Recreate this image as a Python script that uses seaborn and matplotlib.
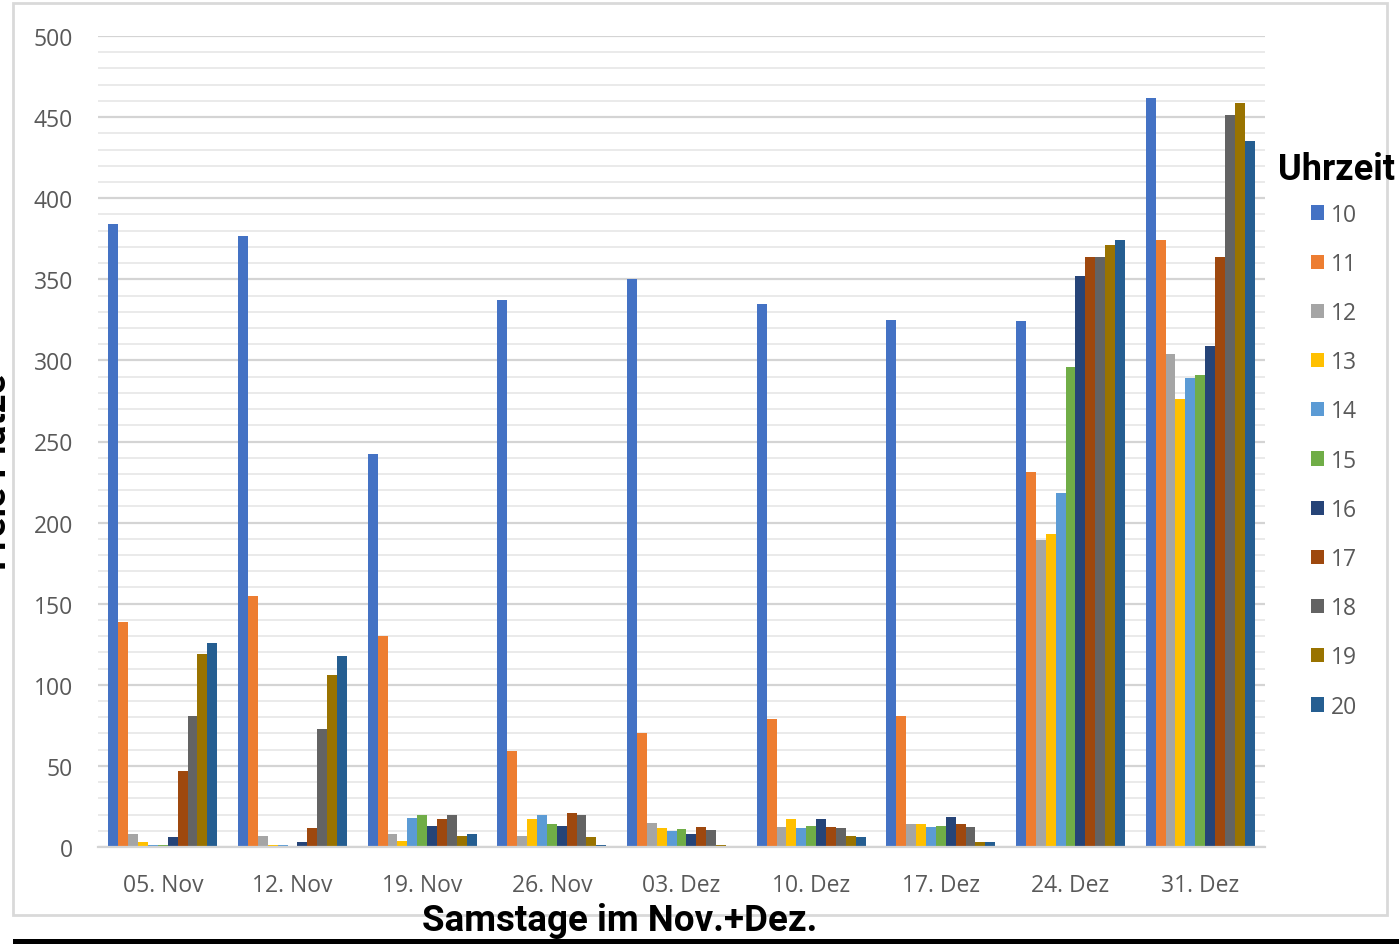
import matplotlib
matplotlib.use("Agg")
import matplotlib.pyplot as plt
from matplotlib.patches import Rectangle
from matplotlib.ticker import MultipleLocator
import seaborn as sns
import pandas as pd

# ---- data ----
dates = ["05. Nov", "12. Nov", "19. Nov", "26. Nov", "03. Dez",
         "10. Dez", "17. Dez", "24. Dez", "31. Dez"]
hours = ["10", "11", "12", "13", "14", "15", "16", "17", "18", "19", "20"]
h10 = [384, 377, 242, 337, 350, 335, 325, 324, 462]
h11 = [139, 155, 130, 59, 70, 79, 81, 231, 374]
h12 = [8, 7, 8, 7, 15, 12.5, 14, 189, 304]
h13 = [3, 1, 4, 17, 11.5, 17, 14, 193, 276]
h14 = [1, 1, 18, 19.5, 10, 11.5, 12.5, 218, 289]
h15 = [1, 0, 20, 14, 11, 13, 13, 296, 291]
h16 = [6, 3, 13, 13, 8, 17, 18.5, 352, 309]
h17 = [47, 12, 17, 21, 12.5, 12.5, 14, 364, 364]
h18 = [81, 73, 19.5, 19.5, 10.5, 11.5, 12.5, 364, 451]
h19 = [119, 106, 7, 6, 1, 7, 3, 371, 459]
h20 = [126, 118, 8, 1, 0, 6, 3, 374, 435]
series = [h10, h11, h12, h13, h14, h15, h16, h17, h18, h19, h20]
colors = ["#4472C4", "#ED7D31", "#A5A5A5", "#FFC000", "#5B9BD5", "#70AD47",
          "#264478", "#9E480E", "#636363", "#997300", "#255E91"]

rows = []
for h, vals in zip(hours, series):
    for d, v in zip(dates, vals):
        rows.append({"Datum": d, "Uhrzeit": h, "Plaetze": v})
df = pd.DataFrame(rows)

W, H = 1399, 945
fig = plt.figure(figsize=(W / 100, H / 100), dpi=100)
ax = fig.add_axes([98 / W, 1 - 848 / H, (1265 - 98) / W, (848 - 37) / H])

sns.barplot(data=df, x="Datum", y="Plaetze", hue="Uhrzeit", order=dates,
            hue_order=hours, palette=colors, width=0.84, gap=0,
            linewidth=0, saturation=1, ax=ax, legend=True)

TICKFONT = ["Open Sans", "DejaVu Sans"]
TS = 16.5
ax.set_ylim(0, 500)
ax.set_xlim(-0.5, len(dates) - 0.5)
ax.yaxis.set_major_locator(MultipleLocator(50))
ax.yaxis.set_minor_locator(MultipleLocator(10))
ax.grid(axis="y", which="major", color="#D4D4D4", lw=1.6, zorder=0)
ax.grid(axis="y", which="minor", color="#E8E8E8", lw=1.3, zorder=0)
ax.set_axisbelow(True)
for s in ["top", "right", "left"]:
    ax.spines[s].set_visible(False)
ax.spines["bottom"].set_color("#D4D4D4")
ax.spines["bottom"].set_linewidth(1.6)
ax.tick_params(axis="both", which="both", length=0, labelsize=TS,
               labelcolor="#595959")
ax.tick_params(axis="y", pad=18)
ax.tick_params(axis="x", pad=18.5)
for lab in ax.get_xticklabels() + ax.get_yticklabels():
    lab.set_fontfamily(TICKFONT)
ax.set_xlabel("")
ax.set_ylabel("")

# legend (entries) + separate title
handles, labels = ax.get_legend_handles_labels()
ax.get_legend().remove()
fsz_px = TS * 100 / 72
leg = fig.legend(handles, labels, loc="upper left",
                 bbox_to_anchor=(1311 / W, 1 - (213 - fsz_px / 2 + 2) / H),
                 frameon=False, borderpad=0, borderaxespad=0,
                 handlelength=0.58, handleheight=0.58, handletextpad=0.3,
                 labelspacing=1.1, prop={"family": TICKFONT, "size": TS})
for t in leg.get_texts():
    t.set_color("#595959")

BOLD = ["Roboto", "Liberation Sans", "DejaVu Sans"]
fig.text(1278 / W, 1 - 170 / H, "Uhrzeit", ha="left", va="center",
         fontsize=26, fontweight="bold", family=BOLD)

# axis titles
fig.text(620 / W, 1 - 921 / H, "Samstage im Nov.+Dez.", ha="center",
         va="center", fontsize=26.5, fontweight="bold", family=BOLD)
fig.text(14 / W, 1 - 472 / H, "Freie Plätze", rotation=90, ha="right",
         va="center", fontsize=26.5, fontweight="bold", family=BOLD)

# frame and bottom rule
fig.add_artist(Rectangle((13 / W, 1 - 916 / H), (1387 - 13) / W, (916 - 4) / H,
                         transform=fig.transFigure, fill=False,
                         edgecolor="#D9D9D9", lw=2))
fig.add_artist(Rectangle((13 / W, 0), (W - 13) / W, 5 / H,
                         transform=fig.transFigure, facecolor="black",
                         edgecolor="none"))

fig.savefig("out.png", dpi=100)
